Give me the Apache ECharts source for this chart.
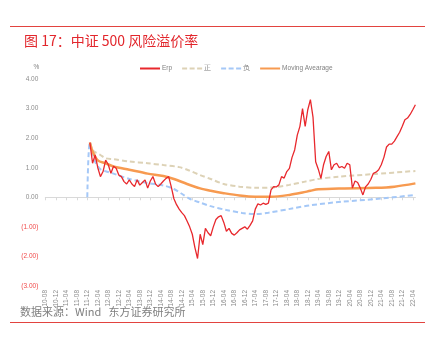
<!DOCTYPE html>
<html>
<head>
<meta charset="utf-8">
<script src="https://cdn.jsdelivr.net/npm/echarts@6/dist/echarts.min.js"></script>
<style>
  html, body { margin: 0; padding: 0; background: #fff; }
  #chart { width: 435px; height: 341px; }
</style>
</head>
<body>
<div id="chart"></div>
<script>
// Month range of the category axis (YY-MM), one category per month
const firstMonth = [2010, 8];
const lastMonth = [2022, 5];

// Erp (%), monthly from 2012-01 to 2022-05
const erpStart = '12-01';
const erpValues = [
  1.85, 1.15, 1.43, 1.00, 0.70, 0.87, 1.26, 1.10, 0.81, 1.05, 0.98, 0.75,   // 2012
  0.70, 0.53, 0.45, 0.59, 0.45, 0.36, 0.59, 0.41, 0.50, 0.59, 0.31, 0.55,   // 2013
  0.70, 0.45, 0.36, 0.45, 0.55, 0.64, 0.70, 0.35, -0.05, -0.25, -0.40, -0.52, // 2014
  -0.62, -0.80, -1.00, -1.25, -1.70, -2.07, -1.25, -1.60, -1.05, -1.20, -1.30, -1.00, // 2015
  -0.75, -0.66, -0.62, -0.85, -1.15, -1.05, -1.22, -1.28, -1.20, -1.10, -1.05, -1.00, // 2016
  -1.08, -0.95, -0.80, -0.40, -0.22, -0.26, -0.20, -0.24, -0.20, 0.25, 0.36, 0.35,   // 2017
  0.42, 0.70, 0.65, 0.87, 0.98, 1.35, 1.60, 2.10, 2.40, 3.00, 2.40, 2.96,   // 2018
  3.30, 2.70, 1.20, 0.95, 0.64, 1.10, 1.38, 1.55, 0.93, 1.10, 1.15, 1.00,   // 2019
  1.04, 0.98, 1.15, 1.10, 0.31, 0.55, 0.50, 0.31, 0.08, 0.35, 0.45, 0.60,   // 2020
  0.81, 0.85, 0.93, 1.10, 1.35, 1.70, 1.80, 1.80, 1.90, 2.05, 2.20, 2.40,   // 2021
  2.62, 2.68, 2.80, 2.96, 3.13                                              // 2022
];

// Moving average of Erp (%)
const maDates  = ['12-01','12-02','12-04','12-07','12-10','13-04','13-11','14-05','14-09','15-02','15-07','15-11','16-04','16-10','17-04','17-10','18-05','18-10','19-01','19-04','20-01','21-02','21-09','22-05'];
const maValues = [1.85, 1.55, 1.25, 1.15, 1.04, 0.93, 0.80, 0.72, 0.62, 0.45, 0.30, 0.22, 0.14, 0.06, 0.02, 0.02, 0.08, 0.16, 0.22, 0.27, 0.30, 0.32, 0.36, 0.47];

// Upper band "正" (%)
const upDates  = ['12-01','12-02','12-05','12-07','12-10','13-04','13-11','14-05','14-11','15-03','15-07','15-11','16-04','16-10','17-04','17-10','18-05','18-11','19-04','19-12','21-02','22-05'];
const upValues = [1.85, 1.59, 1.43, 1.32, 1.29, 1.21, 1.15, 1.09, 1.02, 0.90, 0.75, 0.62, 0.45, 0.36, 0.32, 0.33, 0.42, 0.53, 0.62, 0.70, 0.79, 0.89];

// Lower band "负" (%)
const downDates  = ['11-12','12-01','12-03','12-05','12-07','12-10','13-04','13-11','14-05','14-09','14-12','15-03','15-07','15-11','16-05','16-11','17-04','17-09','18-06','19-01','20-01','21-02','22-05'];
const downValues = [0, 1.85, 1.20, 0.95, 0.88, 0.80, 0.62, 0.48, 0.40, 0.28, 0.12, -0.05, -0.18, -0.30, -0.43, -0.53, -0.57, -0.52, -0.38, -0.27, -0.15, -0.06, 0.08];

// Y axis ticks
const yMin = -3, yMax = 4, yStep = 1;

function buildMonths() {
  const out = [];
  let y = firstMonth[0], m = firstMonth[1];
  while (y < lastMonth[0] || (y === lastMonth[0] && m <= lastMonth[1])) {
    out.push(String(y % 100).padStart(2, '0') + '-' + String(m).padStart(2, '0'));
    m++; if (m > 12) { m = 1; y++; }
  }
  return out;
}
const months = buildMonths();

function pairs(dates, values) { return dates.map((d, i) => [d, values[i]]); }
const startIdx = months.indexOf(erpStart);
const erpData = erpValues.map((v, i) => [months[startIdx + i], v]);

const chart = echarts.init(document.getElementById('chart'), null, { renderer: 'canvas' });
const latin = 'Liberation Sans, Arial, sans-serif';
const cjk = '"Noto Sans CJK SC", "Noto Sans", sans-serif';

// legend glyphs: a solid bar and a three-dash bar
const solidIcon = 'path://M0,0h20v2h-20z';
const dashIcon = 'path://M0,0h5v2h-5zM7.5,0h5v2h-5zM15,0h5v2h-5z';

chart.setOption({
  animation: false,
  backgroundColor: '#ffffff',
  title: {
    text: '图 17：中证 500 风险溢价率',
    left: 19, top: 29,
    textStyle: { fontFamily: cjk, fontSize: 14, fontWeight: 'normal', color: '#e2262c' }
  },
  legend: {
    top: 60, left: 135,
    itemWidth: 20, itemHeight: 2, itemGap: 10,
    textStyle: { fontFamily: latin, fontSize: 6.5, color: '#808080', padding: [0, 0, 0, -3] },
    data: [
      { name: 'Erp', icon: solidIcon },
      { name: '正', icon: dashIcon },
      { name: '负', icon: dashIcon },
      { name: 'Moving Avearage', icon: solidIcon }
    ]
  },
  grid: { left: 45.3, right: 19.6, top: 79, bottom: 55, containLabel: false },
  xAxis: {
    type: 'category',
    data: months,
    boundaryGap: false,
    axisLine: { onZero: true, lineStyle: { color: '#d9d9d9', width: 1 } },
    axisTick: { show: true, interval: 3, length: 3, lineStyle: { color: '#d9d9d9' } },
    axisLabel: { interval: 3, rotate: 90, margin: 4, fontFamily: latin, fontSize: 6.5, color: '#8c8c8c' },
    splitLine: { show: false }
  },
  yAxis: {
    type: 'value',
    min: yMin, max: yMax, interval: yStep,
    name: '%',
    nameLocation: 'end',
    nameGap: 8,
    nameTextStyle: { fontFamily: latin, fontSize: 6.5, color: '#808080', align: 'right', padding: [0, 6, 0, 0] },
    axisLine: { show: false },
    axisTick: { show: false },
    splitLine: { show: false },
    axisLabel: {
      margin: 7,
      fontFamily: latin, fontSize: 6.5,
      formatter: v => v < 0 ? '{neg|(' + Math.abs(v).toFixed(2) + ')}' : '{pos|' + v.toFixed(2) + '}',
      rich: {
        pos: { color: '#8c8c8c', fontFamily: latin, fontSize: 6.5 },
        neg: { color: '#f04a4a', fontFamily: latin, fontSize: 6.5 }
      }
    }
  },
  series: [
    {
      name: 'Erp', type: 'line', data: erpData,
      showSymbol: false, symbol: 'none', z: 5,
      lineStyle: { color: '#e8282d', width: 1.3 },
      itemStyle: { color: '#e8282d' }
    },
    {
      name: '正', type: 'line', data: pairs(upDates, upValues),
      showSymbol: false, symbol: 'none', smooth: 0.3, z: 3,
      lineStyle: { color: '#ddd2b6', width: 2, type: [5, 3] },
      itemStyle: { color: '#ddd2b6' }
    },
    {
      name: '负', type: 'line', data: pairs(downDates, downValues),
      showSymbol: false, symbol: 'none', smooth: 0.3, z: 3,
      lineStyle: { color: '#a5c8f7', width: 2, type: [5, 3] },
      itemStyle: { color: '#a5c8f7' }
    },
    {
      name: 'Moving Avearage', type: 'line', data: pairs(maDates, maValues),
      showSymbol: false, symbol: 'none', smooth: 0.3, z: 4,
      lineStyle: { color: '#f79a50', width: 2.5 },
      itemStyle: { color: '#f79a50' }
    }
  ],
  graphic: [
    { type: 'line', shape: { x1: 10, y1: 26.5, x2: 425, y2: 26.5 }, style: { stroke: '#e2433f', lineWidth: 1 } },
    { type: 'line', shape: { x1: 10, y1: 322.5, x2: 425, y2: 322.5 }, style: { stroke: '#e2433f', lineWidth: 1 } },
    { type: 'text', left: 20, top: 306, style: { text: '数据来源：Wind   东方证券研究所', font: '11px ' + cjk, fill: '#7f7f7f' } }
  ]
});
</script>
</body>
</html>
